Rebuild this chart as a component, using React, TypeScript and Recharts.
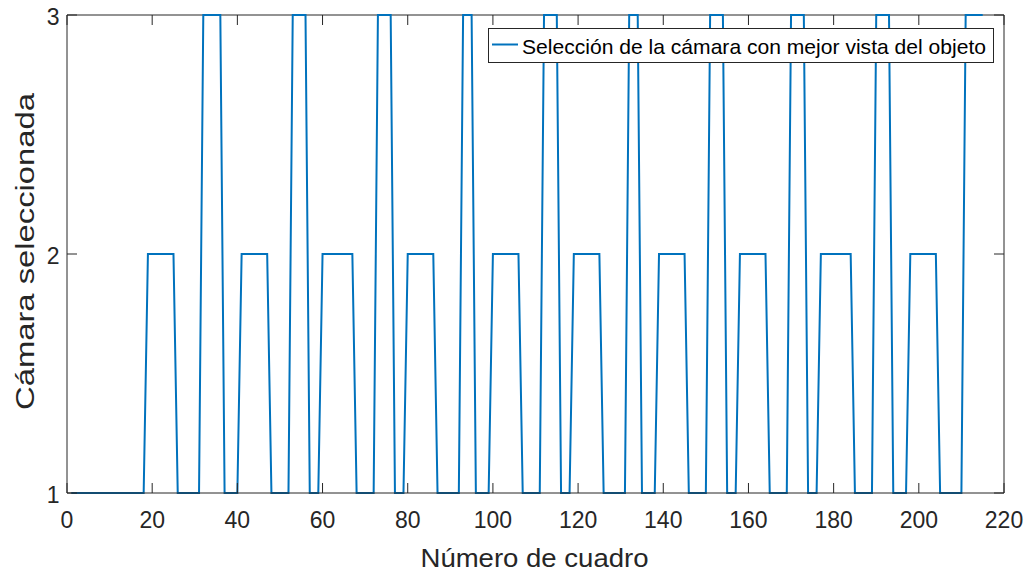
import { LineChart, Line, XAxis, YAxis, ReferenceLine, Legend } from 'recharts';

// camera chosen for each frame (frames 1..215)
const camera = [
  1, 1, 1, 1, 1, 1, 1, 1, 1, 1,
  1, 1, 1, 1, 1, 1, 1, 1, 2, 2,
  2, 2, 2, 2, 2, 1, 1, 1, 1, 1,
  1, 3, 3, 3, 3, 3, 1, 1, 1, 1,
  2, 2, 2, 2, 2, 2, 2, 1, 1, 1,
  1, 1, 3, 3, 3, 3, 1, 1, 1, 2,
  2, 2, 2, 2, 2, 2, 2, 1, 1, 1,
  1, 1, 3, 3, 3, 3, 1, 1, 1, 2,
  2, 2, 2, 2, 2, 2, 1, 1, 1, 1,
  1, 1, 3, 3, 3, 1, 1, 1, 1, 2,
  2, 2, 2, 2, 2, 2, 1, 1, 1, 1,
  1, 3, 3, 3, 3, 1, 1, 1, 2, 2,
  2, 2, 2, 2, 2, 1, 1, 1, 1, 1,
  1, 3, 3, 3, 1, 1, 1, 1, 2, 2,
  2, 2, 2, 2, 2, 1, 1, 1, 1, 1,
  3, 3, 3, 3, 1, 1, 1, 2, 2, 2,
  2, 2, 2, 2, 1, 1, 1, 1, 1, 3,
  3, 3, 3, 1, 1, 1, 2, 2, 2, 2,
  2, 2, 2, 2, 1, 1, 1, 1, 1, 3,
  3, 3, 3, 1, 1, 1, 1, 2, 2, 2,
  2, 2, 2, 2, 1, 1, 1, 1, 1, 1,
  3, 3, 3, 3, 3,
];
const frames = camera.map((_, i) => i + 1);

const xTicks = [0, 20, 40, 60, 80, 100, 120, 140, 160, 180, 200, 220];
const yTicks = [1, 2, 3];
const seriesName = 'Selección de la cámara con mejor vista del objeto';
const xLabel = 'Número de cuadro';
const yLabel = 'Cámara seleccionada';

const data = frames.map((f, i) => ({ frame: f, camera: camera[i] }));

// layout
const LEFT = 67;
const RIGHT = 1004;
const TOP = 15;
const BOTTOM = 493;
const TICK = 10;
const INK = '#262626';
const BLUE = '#0072BD';
const FONT = "'Liberation Sans', Arial, Helvetica, sans-serif";

function XTick({ x, payload }: any) {
  return (
    <g>
      <line x1={x} x2={x} y1={BOTTOM} y2={BOTTOM - TICK} stroke={INK} />
      <line x1={x} x2={x} y1={TOP} y2={TOP + TICK} stroke={INK} />
      <text x={x} y={528} textAnchor="middle" fontSize={23} fill={INK} fontFamily={FONT}>
        {payload.value}
      </text>
    </g>
  );
}

function YTick({ y, payload }: any) {
  return (
    <g>
      <line x1={LEFT} x2={LEFT + TICK} y1={y} y2={y} stroke={INK} />
      <line x1={RIGHT} x2={RIGHT - TICK} y1={y} y2={y} stroke={INK} />
      <text x={59.5} y={y + 9.5} textAnchor="end" fontSize={23} fill={INK} fontFamily={FONT}>
        {payload.value}
      </text>
    </g>
  );
}

function LegendBox({ payload }: any) {
  const item = payload && payload[0];
  return (
    <svg width={506} height={35} style={{ display: 'block' }}>
      <rect x={0.5} y={0.5} width={505} height={34} fill="#fff" stroke={INK} />
      <line x1={4} x2={30} y1={16.5} y2={16.5} stroke={item ? item.color : BLUE} strokeWidth={2} />
      <text x={34} y={26} fontSize={21} fill="#000" fontFamily={FONT} textLength={464} lengthAdjust="spacingAndGlyphs">
        {item ? item.value : seriesName}
      </text>
    </svg>
  );
}

export default function App() {
  return (
    <div style={{ position: 'absolute', left: 0, top: 0, width: 1031, height: 573, background: '#fff' }}>
      <LineChart width={1031} height={573} data={data} margin={{ top: TOP, right: 1031 - RIGHT, bottom: 0, left: 0 }}>
        <XAxis
          dataKey="frame"
          type="number"
          domain={[0, 220]}
          ticks={xTicks}
          height={80}
          tickLine={false}
          axisLine={{ stroke: INK }}
          tick={<XTick />}
          interval={0}
          label={() => (
            <text x={534.5} y={566.5} textAnchor="middle" fontSize={25} fill={INK} fontFamily={FONT} textLength={228} lengthAdjust="spacingAndGlyphs">
              {xLabel}
            </text>
          )}
        />
        <YAxis
          type="number"
          domain={[1, 3]}
          ticks={yTicks}
          width={LEFT}
          tickLine={false}
          axisLine={{ stroke: INK }}
          tick={<YTick />}
          interval={0}
          label={() => (
            <text x={34} y={251.5} transform="rotate(-90, 34, 251.5)" textAnchor="middle" fontSize={25} fill={INK} fontFamily={FONT} textLength={317} lengthAdjust="spacingAndGlyphs">
              {yLabel}
            </text>
          )}
        />
        <ReferenceLine y={3} stroke={INK} strokeWidth={1} />
        <ReferenceLine x={220} stroke={INK} strokeWidth={1} />
        <Line
          type="linear"
          dataKey="camera"
          name={seriesName}
          stroke={BLUE}
          strokeWidth={2}
          dot={false}
          isAnimationActive={false}
        />
        <Legend
          layout="horizontal"
          verticalAlign="middle"
          align="center"
          content={<LegendBox />}
          wrapperStyle={{ position: 'absolute', left: 488, top: 28, width: 506, height: 35, margin: 0, padding: 0 }}
        />
      </LineChart>
    </div>
  );
}
